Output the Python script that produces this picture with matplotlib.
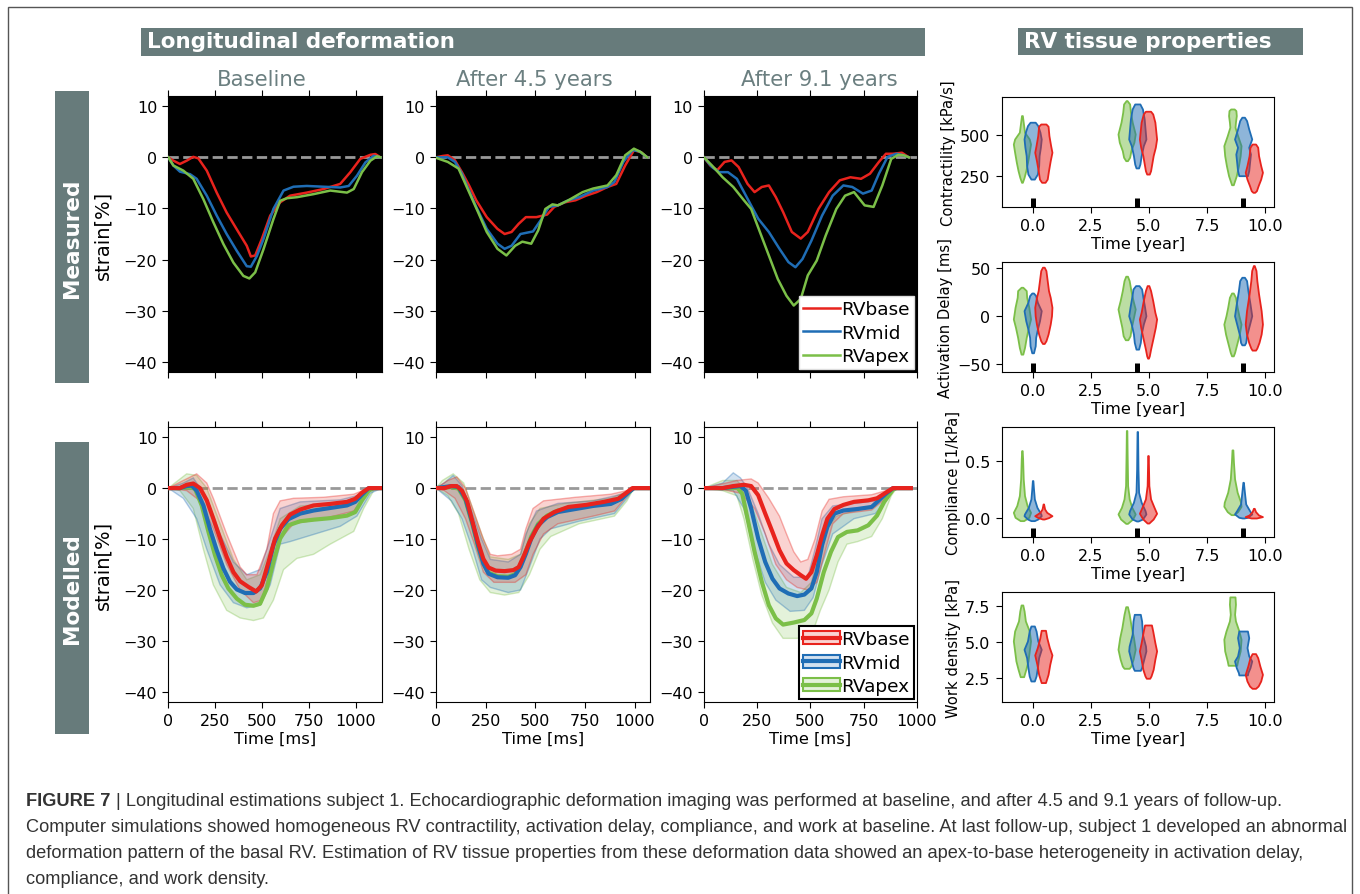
import numpy as np
import matplotlib
matplotlib.use("Agg")
import matplotlib.pyplot as plt
from matplotlib.patches import Rectangle
from matplotlib.colors import to_rgba
from matplotlib.text import Annotation

# ---------------------------------------------------------------- data
REGIONS = ["RVbase", "RVmid", "RVapex"]
PANEL_TITLES = ["Baseline", "After 4.5 years", "After 9.1 years"]
XLIMS = [1137, 1075, 1000]

# measured strain (time [ms], strain [%])
m0_red_t = [0, 27, 62, 98, 133, 160, 205, 258, 311, 365, 418, 440, 463, 498, 543, 596, 649, 738, 827, 916, 970, 1023, 1077, 1103, 1130]
m0_red_v = [0, -0.65, -1.3, -0.65, 0.1, -0.2, -2.6, -6.9, -10.8, -14.1, -17.3, -19.4, -19.2, -16.0, -11.4, -8.8, -7.5, -6.9, -6.2, -5.2, -2.9, -0.3, 0.5, 0.65, 0]
m0_blue_t = [0, 27, 62, 116, 151, 205, 258, 311, 365, 418, 440, 472, 507, 560, 614, 667, 738, 827, 916, 961, 1005, 1050, 1094, 1130]
m0_blue_v = [0, -1.6, -2.8, -3.3, -4.2, -7.5, -11.4, -15.0, -18.3, -21.3, -21.4, -19.3, -16.0, -10.1, -6.5, -5.75, -5.6, -5.75, -5.9, -5.6, -3.6, -1.0, 0.3, 0]
m0_green_t = [0, 27, 80, 133, 187, 240, 294, 347, 400, 432, 463, 507, 560, 596, 632, 685, 774, 863, 952, 988, 1032, 1077, 1112, 1130]
m0_green_v = [0, -1.6, -2.6, -4.2, -8.2, -12.7, -17.0, -20.6, -23.2, -23.7, -22.5, -18.0, -12.1, -8.5, -8.0, -7.8, -7.2, -6.5, -6.9, -6.2, -2.9, -0.65, 0.2, 0]

m1_red_t = [0, 32, 59, 95, 130, 166, 202, 255, 309, 345, 380, 416, 452, 505, 559, 595, 648, 702, 755, 809, 863, 907, 952, 996, 1032, 1063]
m1_red_v = [0, 0.26, 0.4, -0.6, -2.9, -5.5, -8.4, -11.7, -14.0, -15.0, -14.6, -13.0, -11.7, -11.7, -11.2, -9.7, -8.8, -8.4, -7.5, -6.8, -5.8, -5.2, -1.6, 1.4, 1.0, 0]
m1_blue_t = [0, 59, 95, 130, 166, 202, 255, 309, 345, 380, 425, 488, 532, 568, 613, 666, 720, 791, 863, 898, 943, 988, 1023, 1063]
m1_blue_v = [0, 0, -0.9, -3.2, -6.5, -9.7, -14.0, -16.9, -17.9, -17.3, -15.0, -14.5, -12.0, -9.7, -9.4, -8.4, -7.8, -6.5, -5.8, -4.8, -0.9, 1.4, 1.2, 0]
m1_green_t = [0, 59, 113, 166, 211, 255, 309, 354, 398, 434, 479, 514, 550, 586, 613, 666, 738, 791, 863, 907, 952, 996, 1032, 1063]
m1_green_v = [-0.1, -0.9, -2.2, -6.8, -10.7, -14.6, -17.9, -19.2, -17.3, -16.5, -16.9, -14.3, -10.1, -9.2, -9.4, -8.4, -6.8, -6.1, -5.5, -3.5, 0.4, 1.7, 1.0, 0]

m2_red_t = [0, 30, 63, 97, 130, 163, 205, 238, 272, 305, 338, 372, 413, 455, 488, 538, 588, 638, 688, 738, 780, 822, 855, 888, 930, 963]
m2_red_v = [0, -1.6, -2.5, -0.9, -0.6, -1.9, -5.2, -6.8, -5.8, -5.5, -7.8, -10.7, -14.6, -15.9, -14.6, -10.1, -6.8, -4.5, -3.9, -4.2, -3.2, -0.9, 0.7, 0.7, 0.9, 0]
m2_blue_t = [0, 38, 72, 113, 155, 205, 255, 305, 355, 397, 430, 463, 505, 555, 605, 655, 697, 747, 788, 822, 863, 905, 938, 963]
m2_blue_v = [0, -1.9, -2.9, -2.9, -4.2, -8.1, -12.0, -14.6, -17.9, -20.5, -21.5, -19.9, -16.3, -11.4, -7.5, -5.5, -5.8, -7.1, -6.5, -3.2, 0.1, 0.7, 0.4, 0]
m2_green_t = [0, 38, 88, 138, 188, 222, 263, 305, 347, 388, 422, 455, 488, 530, 572, 622, 663, 705, 755, 797, 838, 880, 913, 938, 963]
m2_green_v = [0, -1.6, -3.9, -5.8, -8.4, -10.1, -14.6, -19.2, -23.8, -27.1, -29.0, -27.7, -23.1, -20.2, -15.3, -10.1, -7.5, -6.8, -9.4, -9.7, -5.5, -0.3, 0.5, 0.4, 0]

# modelled strain: mean curves
s0_red_t = [0, 62, 98, 133, 169, 205, 240, 276, 311, 347, 383, 427, 468, 498, 534, 569, 605, 649, 703, 774, 863, 952, 996, 1032, 1068, 1139]
s0_red_v = [0, 0, 0.65, 0.9, 0, -2.4, -6.0, -9.9, -13.5, -16.5, -18.3, -19.4, -20.3, -19.1, -14.5, -9.9, -7.3, -5.2, -4.2, -3.4, -3.1, -2.7, -2.1, -0.9, 0, 0]
s0_blue_t = [0, 62, 98, 125, 151, 187, 222, 258, 294, 329, 365, 409, 454, 489, 525, 560, 596, 640, 703, 774, 863, 952, 996, 1032, 1068, 1139]
s0_blue_v = [0, 0, 0.4, 0.5, -0.5, -3.4, -8.0, -12.2, -15.8, -18.4, -19.9, -20.6, -20.6, -19.7, -16.5, -11.2, -8.0, -6.1, -5.0, -4.4, -3.9, -3.4, -2.7, -1.3, 0, 0]
s0_green_t = [0, 62, 107, 142, 178, 214, 249, 285, 320, 365, 409, 454, 489, 525, 560, 596, 640, 703, 774, 863, 952, 996, 1032, 1068, 1094, 1139]
s0_green_v = [0, 0, 0.2, -0.1, -3.4, -8.6, -13.2, -17.1, -19.7, -21.7, -22.9, -23.1, -22.7, -19.7, -14.5, -9.9, -7.3, -6.5, -6.2, -5.9, -5.4, -4.7, -2.4, -0.5, 0, 0]

s1_red_t = [0, 41, 77, 104, 130, 157, 184, 211, 238, 264, 300, 345, 389, 416, 443, 470, 505, 541, 595, 666, 755, 845, 916, 952, 988, 1068]
s1_red_v = [0, 0, 0.4, 0.4, -0.5, -2.7, -6.7, -10.6, -13.9, -15.6, -16.2, -16.3, -16.1, -15.5, -13.2, -10.6, -8.0, -6.0, -4.7, -3.7, -3.3, -2.7, -2.1, -1.1, 0, 0]
s1_blue_t = [0, 77, 113, 148, 184, 211, 238, 264, 309, 363, 398, 425, 452, 479, 514, 559, 613, 702, 791, 880, 934, 970, 996, 1068]
s1_blue_v = [0, 0.4, 0.2, -2.1, -7.0, -11.2, -14.8, -16.8, -17.5, -17.6, -17.1, -15.5, -12.9, -9.9, -7.3, -5.7, -4.7, -4.1, -3.5, -3.1, -2.1, -0.8, 0, 0]
s1_green_t = [0, 77, 113, 148, 184, 211, 238, 264, 309, 363, 398, 425, 452, 479, 514, 559, 613, 702, 791, 880, 934, 970, 996, 1068]
s1_green_v = [0, 0.2, -0.1, -2.4, -7.3, -11.5, -14.8, -16.6, -17.3, -17.4, -16.9, -15.0, -12.4, -9.5, -7.0, -5.4, -4.4, -3.7, -3.3, -2.9, -2.0, -0.8, 0, 0]

s2_red_t = [0, 88, 138, 188, 222, 255, 288, 322, 355, 388, 422, 455, 480, 505, 530, 555, 580, 613, 655, 705, 772, 813, 847, 888, 972]
s2_red_v = [0, 0, 0.4, 0.65, 0.4, -1.4, -5.0, -8.6, -12.2, -14.8, -16.1, -17.1, -17.8, -16.5, -13.2, -9.3, -6.0, -4.1, -3.3, -2.7, -2.4, -2.0, -1.1, 0, 0]
s2_blue_t = [0, 88, 138, 172, 197, 222, 255, 288, 322, 355, 397, 438, 472, 505, 530, 555, 580, 613, 655, 722, 788, 822, 855, 888, 972]
s2_blue_v = [0, 0, 0.26, 0.4, -0.5, -4.0, -9.9, -14.5, -17.8, -19.7, -20.7, -21.2, -20.9, -19.7, -16.5, -11.2, -7.6, -5.0, -4.4, -4.1, -3.7, -2.4, -1.1, 0, 0]
s2_green_t = [0, 138, 155, 180, 205, 238, 272, 305, 338, 372, 422, 472, 505, 530, 563, 597, 630, 672, 722, 772, 813, 847, 888, 905, 972]
s2_green_v = [0, 0, 0.2, -1.1, -6.0, -12.5, -18.4, -23.0, -25.6, -26.8, -26.4, -25.9, -24.6, -21.7, -16.5, -12.5, -9.6, -8.6, -8.3, -7.3, -5.4, -2.7, -0.3, 0, 0]

# modelled strain: band upper / lower edges
b0_red_up_t = [0, 80, 151, 205, 240, 311, 383, 418, 472, 525, 560, 596, 667, 827, 988, 1068, 1139]
b0_red_up_v = [0, 1.5, 2.8, 1.0, -2.0, -9.0, -15.5, -17.0, -17.0, -12.0, -5.0, -2.5, -2.0, -1.8, -1.2, 0, 0]
b0_red_lo_t = [0, 98, 169, 240, 311, 383, 454, 498, 543, 596, 667, 827, 988, 1068, 1139]
b0_red_lo_v = [0, -0.5, -2.5, -8.0, -15.0, -20.0, -22.5, -22.0, -16.0, -10.0, -7.0, -6.0, -4.5, -0.5, 0]
b0_blue_up_t = [0, 80, 133, 205, 276, 347, 418, 489, 543, 596, 703, 916, 1023, 1077, 1139]
b0_blue_up_v = [0, 1.0, 2.0, -2.0, -9.0, -14.5, -17.0, -16.0, -10.0, -4.0, -2.7, -2.3, -1.3, 0, 0]
b0_blue_lo_t = [0, 80, 151, 205, 276, 347, 418, 489, 543, 596, 649, 738, 827, 916, 1005, 1077, 1139]
b0_blue_lo_v = [0, -2.0, -6.0, -12.0, -19.0, -22.5, -23.5, -23.0, -19.0, -11.0, -10.5, -9.5, -8.5, -7.5, -5.5, -1.0, 0]
b0_green_up_t = [0, 98, 151, 205, 276, 347, 418, 489, 543, 596, 703, 916, 1023, 1077, 1139]
b0_green_up_v = [0, 2.8, 2.5, 0, -7.0, -14.0, -18.0, -17.0, -12.0, -6.0, -3.5, -3.0, -1.5, 0, 0]
b0_green_lo_t = [0, 62, 133, 187, 240, 311, 383, 454, 507, 560, 614, 685, 774, 863, 988, 1041, 1094, 1139]
b0_green_lo_v = [0, -0.5, -4.0, -12.0, -19.0, -24.0, -25.5, -26.0, -25.5, -22.0, -16.0, -13.8, -13.0, -11.0, -8.5, -4.0, -0.5, 0]

b1_red_up_t = [0, 59, 104, 148, 184, 238, 273, 309, 380, 425, 452, 488, 541, 702, 880, 970, 996, 1068]
b1_red_up_v = [0, 1.5, 2.2, 0, -4.0, -10.0, -13.0, -13.3, -13.0, -12.0, -8.0, -4.0, -2.5, -1.8, -1.2, -0.4, 0, 0]
b1_red_lo_t = [0, 41, 95, 148, 193, 238, 291, 398, 452, 488, 541, 613, 791, 898, 952, 996, 1068]
b1_red_lo_v = [0, -0.5, -2.0, -6.0, -11.0, -16.5, -18.5, -18.5, -17.0, -13.0, -9.0, -7.0, -5.5, -4.5, -2.0, 0, 0]
b1_blue_up_t = [0, 41, 86, 130, 175, 229, 273, 363, 425, 452, 505, 613, 791, 934, 991, 1068]
b1_blue_up_v = [0, 1.0, 2.5, 0.5, -4.0, -10.0, -14.0, -14.5, -13.0, -9.0, -4.5, -3.0, -2.5, -1.2, 0, 0]
b1_blue_lo_t = [0, 77, 130, 184, 229, 273, 363, 425, 470, 523, 577, 720, 898, 961, 996, 1068]
b1_blue_lo_v = [0, -2.5, -6.0, -12.0, -18.0, -19.5, -20.5, -20.0, -15.5, -10.0, -8.0, -6.5, -5.0, -2.0, 0, 0]
b1_green_up_t = [0, 32, 86, 139, 175, 229, 273, 363, 425, 470, 523, 648, 880, 970, 996, 1068]
b1_green_up_v = [0, 1.5, 2.8, 1.0, -3.0, -9.0, -13.5, -14.0, -13.0, -7.0, -4.0, -3.0, -2.0, -0.5, 0, 0]
b1_green_lo_t = [0, 59, 113, 166, 220, 273, 345, 416, 470, 523, 577, 720, 898, 961, 996, 1068]
b1_green_lo_v = [0, -1.5, -5.0, -12.0, -18.0, -20.5, -21.0, -20.5, -17.0, -12.0, -9.5, -7.0, -5.5, -2.5, 0, 0]

b2_red_up_t = [0, 155, 222, 255, 305, 355, 388, 422, 455, 488, 522, 555, 588, 655, 788, 855, 888, 972]
b2_red_up_v = [0, 1.5, 1.8, 1.0, -2.0, -5.5, -9.0, -12.5, -14.5, -14.0, -10.0, -4.5, -2.2, -1.7, -1.3, -0.5, 0, 0]
b2_red_lo_t = [0, 88, 172, 238, 288, 338, 388, 438, 488, 530, 572, 605, 655, 788, 855, 888, 972]
b2_red_lo_v = [0, -0.3, -1.0, -4.0, -9.0, -15.0, -18.0, -19.5, -20.0, -18.5, -12.0, -7.0, -5.0, -4.3, -2.0, 0, 0]
b2_blue_up_t = [0, 88, 138, 172, 205, 255, 305, 355, 422, 488, 522, 555, 605, 705, 805, 855, 888, 972]
b2_blue_up_v = [0, 1.0, 3.0, 2.0, 0, -5.0, -11.0, -15.0, -17.5, -17.5, -12.0, -6.0, -3.5, -3.0, -2.5, -1.0, 0, 0]
b2_blue_lo_t = [0, 138, 188, 238, 288, 338, 405, 472, 513, 555, 605, 705, 805, 855, 888, 972]
b2_blue_lo_v = [0, -0.5, -4.0, -12.0, -18.5, -22.0, -24.2, -24.0, -21.5, -15.0, -9.0, -6.0, -5.0, -2.5, 0, 0]
b2_green_up_t = [0, 88, 155, 188, 222, 272, 322, 388, 455, 505, 538, 580, 622, 705, 805, 855, 897, 972]
b2_green_up_v = [0, 1.5, 1.5, 0, -3.0, -9.0, -15.0, -19.5, -20.5, -18.5, -13.0, -8.0, -5.5, -4.5, -3.5, -1.0, 0, 0]
b2_green_lo_t = [0, 88, 155, 188, 230, 272, 322, 372, 438, 505, 547, 588, 630, 672, 722, 788, 838, 880, 905, 972]
b2_green_lo_v = [0, -0.5, -1.5, -6.0, -14.0, -21.0, -26.5, -29.5, -29.5, -29.0, -24.0, -20.0, -14.5, -11.0, -10.5, -9.5, -6.0, -1.5, 0, 0]

# RV tissue properties: violin outlines (value, relative half width) per follow-up
TIMES = [0.0, 4.5, 9.05]
TIME_TICKS = [0.0, 2.5, 5.0, 7.5, 10.0]
PROP_LABELS = ["Contractility [kPa/s]", "Activation Delay [ms]", "Compliance [1/kPa]", "Work density [kPa]"]
PROP_YTICKS = [[250, 500], [-50, 0, 50], [0.0, 0.5], [2.5, 5.0, 7.5]]
PROP_YLIMS = [(58, 739), (-58, 56), (-0.163, 0.79), (0.81, 8.45)]

contr_apex_y = [[622, 581, 519, 477, 446, 395, 333, 281, 240, 209],
                [715, 694, 643, 581, 508, 457, 405, 364, 343],
                [663, 653, 622, 581, 550, 498, 436, 374, 312, 250, 194]]
contr_apex_w = [[0.05, 0.15, 0.3, 0.85, 1.0, 0.85, 0.65, 0.45, 0.25, 0.05],
                [0.05, 0.35, 0.45, 0.65, 1.0, 0.85, 0.5, 0.35, 0.1],
                [0.2, 0.4, 0.45, 0.35, 0.3, 0.6, 1.0, 0.9, 0.7, 0.45, 0.1]]
contr_mid_y = [[581, 560, 519, 477, 426, 374, 312, 260, 229],
               [694, 663, 601, 539, 477, 436, 374, 322, 298],
               [612, 591, 539, 477, 426, 384, 333, 281, 250]]
contr_mid_w = [[0.3, 0.6, 0.85, 1.0, 0.9, 0.75, 0.7, 0.55, 0.2],
               [0.3, 0.6, 0.8, 0.9, 1.0, 0.7, 0.45, 0.3, 0.15],
               [0.15, 0.4, 0.65, 1.0, 0.65, 0.85, 0.75, 0.65, 0.5]]
contr_base_y = [[570, 556, 498, 436, 395, 343, 281, 229, 209],
                [649, 632, 581, 477, 426, 374, 312, 281, 260],
                [446, 426, 374, 312, 271, 229, 188, 157, 147]]
contr_base_w = [[0.3, 0.55, 0.65, 0.85, 1.0, 0.8, 0.6, 0.45, 0.2],
                [0.3, 0.55, 0.8, 1.0, 0.85, 0.6, 0.4, 0.3, 0.15],
                [0.2, 0.45, 0.55, 0.8, 1.0, 0.8, 0.5, 0.3, 0.1]]

delay_apex_y = [[30.0, 26.5, 19.5, 9.1, -3.1, -11.8, -22.3, -32.8, -39.7],
                [41.5, 36.9, 26.5, 16.0, 7.3, -1.4, -11.8, -20.6, -24.7],
                [24.0, 19.5, 9.1, 0.3, -8.4, -18.8, -29.3, -38.0, -41.5]]
delay_apex_w = [[0.1, 0.5, 0.55, 0.8, 1.0, 0.75, 0.5, 0.3, 0.1],
                [0.1, 0.3, 0.5, 0.75, 1.0, 0.8, 0.55, 0.4, 0.15],
                [0.1, 0.35, 0.55, 0.75, 1.0, 0.8, 0.5, 0.25, 0.1]]
delay_mid_y = [[24.0, 21.3, 14.3, 5.6, -4.9, -13.6, -22.3, -31.0, -38.3],
               [31.7, 28.2, 19.5, 9.1, 0.3, -8.4, -18.8, -27.5, -34.5],
               [40.4, 36.9, 26.5, 12.5, 0.3, -10.1, -20.6, -27.5, -30.0]]
delay_mid_w = [[0.1, 0.35, 0.55, 1.0, 0.8, 0.55, 0.35, 0.3, 0.1],
               [0.2, 0.5, 0.65, 0.85, 1.0, 0.7, 0.45, 0.35, 0.15],
               [0.15, 0.4, 0.55, 0.8, 1.0, 0.7, 0.4, 0.3, 0.15]]
delay_base_y = [[50.9, 47.4, 36.9, 26.5, 19.5, 9.1, 0.3, -8.4, -18.8, -25.8, -28.6],
                [31.7, 26.5, 16.0, 3.8, -3.1, -11.8, -22.3, -34.5, -41.5, -43.9],
                [52.6, 47.4, 36.9, 23.0, 5.6, -8.4, -18.8, -27.5, -33.4, -35.5]]
delay_base_w = [[0.1, 0.3, 0.45, 0.6, 0.8, 1.0, 0.95, 0.8, 0.55, 0.3, 0.1],
                [0.1, 0.3, 0.55, 0.8, 1.0, 0.85, 0.6, 0.3, 0.15, 0.05],
                [0.05, 0.25, 0.35, 0.55, 0.85, 1.0, 0.85, 0.6, 0.35, 0.2]]

compl_apex_y = [[0.587, 0.515, 0.340, 0.195, 0.108, 0.049, 0.006, -0.023],
                [0.762, 0.573, 0.282, 0.166, 0.093, 0.035, -0.009, -0.047],
                [0.593, 0.485, 0.340, 0.224, 0.137, 0.102, 0.055, 0.029]]
compl_apex_w = [[0.03, 0.08, 0.15, 0.3, 0.6, 1.0, 0.8, 0.2],
                [0.03, 0.06, 0.12, 0.3, 0.6, 1.0, 0.7, 0.1],
                [0.05, 0.12, 0.25, 0.55, 0.95, 1.0, 0.6, 0.15]]
compl_mid_y = [[0.326, 0.253, 0.166, 0.093, 0.035, 0.020, -0.009, -0.023],
               [0.753, 0.427, 0.224, 0.137, 0.064, 0.035, -0.009, -0.026],
               [0.311, 0.224, 0.122, 0.064, 0.035, 0.006, 0.0]]
compl_mid_w = [[0.03, 0.1, 0.2, 0.5, 0.95, 1.0, 0.6, 0.2],
               [0.03, 0.08, 0.15, 0.45, 0.9, 1.0, 0.6, 0.1],
               [0.03, 0.15, 0.3, 0.75, 1.0, 0.5, 0.1]]
compl_base_y = [[0.122, 0.078, 0.049, 0.020, 0.003, -0.009],
                [0.544, 0.282, 0.166, 0.093, 0.041, -0.009, -0.044],
                [0.084, 0.055, 0.026, 0.012, 0.0]]
compl_base_w = [[0.03, 0.15, 0.4, 1.0, 0.6, 0.1],
                [0.03, 0.1, 0.3, 0.7, 1.0, 0.6, 0.1],
                [0.05, 0.2, 0.55, 1.0, 0.3]]

work_apex_y = [[7.57, 7.15, 6.46, 5.76, 5.07, 4.38, 3.68, 3.10, 2.59],
               [7.45, 6.92, 6.00, 5.30, 4.49, 3.80, 3.33, 3.17],
               [8.13, 7.62, 6.92, 6.46, 5.76, 5.19, 4.38, 3.68, 3.38]]
work_apex_w = [[0.1, 0.25, 0.4, 0.85, 1.0, 0.85, 0.7, 0.45, 0.2],
               [0.1, 0.3, 0.55, 0.8, 1.0, 0.75, 0.5, 0.3],
               [0.3, 0.35, 0.25, 0.35, 0.75, 1.0, 0.9, 0.6, 0.5]]
work_mid_y = [[6.11, 5.76, 5.07, 4.49, 3.91, 3.22, 2.64, 2.29],
              [6.92, 6.46, 5.53, 4.72, 4.38, 3.80, 3.22, 3.03],
              [5.76, 5.30, 4.61, 4.03, 3.68, 3.22, 2.87, 2.71]]
work_mid_w = [[0.2, 0.4, 0.6, 1.0, 0.7, 0.55, 0.4, 0.2],
              [0.35, 0.5, 0.6, 0.95, 1.0, 0.75, 0.5, 0.35],
              [0.5, 0.65, 0.45, 0.65, 1.0, 0.8, 0.55, 0.5]]
work_base_y = [[5.81, 5.30, 4.61, 4.10, 3.45, 2.75, 2.18],
               [6.18, 5.76, 4.95, 4.38, 3.80, 3.10, 2.64, 2.48],
               [4.19, 3.91, 3.33, 2.75, 2.29, 1.94, 1.78]]
work_base_w = [[0.25, 0.4, 0.7, 1.0, 0.75, 0.55, 0.25],
               [0.4, 0.55, 0.8, 1.0, 0.8, 0.6, 0.35, 0.2],
               [0.2, 0.45, 0.7, 1.0, 0.8, 0.5, 0.2]]

CAPTION_BOLD = "FIGURE 7 "
CAPTION_LINES = [
    "| Longitudinal estimations subject 1. Echocardiographic deformation imaging was performed at baseline, and after 4.5 and 9.1 years of follow-up.",
    "Computer simulations showed homogeneous RV contractility, activation delay, compliance, and work at baseline. At last follow-up, subject 1 developed an abnormal",
    "deformation pattern of the basal RV. Estimation of RV tissue properties from these deformation data showed an apex-to-base heterogeneity in activation delay,",
    "compliance, and work density.",
]

# ---------------------------------------------------------------- style
RED, BLUE, GREEN = "#e8231d", "#1f6db5", "#7bbf48"
COLORS = [RED, BLUE, GREEN]
BOX = "#677b7b"
TITLE_C = "#6b7f80"
TICK_FS = 11.5
CAP_FS = 13.15

W, H = 1360, 895
fig = plt.figure(figsize=(W / 100, H / 100), dpi=100)


def frac(x0, y0, x1, y1):
    return [x0 / W, 1 - y1 / H, (x1 - x0) / W, (y1 - y0) / H]


def fig_rect(x0, y0, x1, y1, **kw):
    fig.patches.append(Rectangle((x0 / W, 1 - y1 / H), (x1 - x0) / W, (y1 - y0) / H,
                                 transform=fig.transFigure, figure=fig, **kw))


# outer frame
fig_rect(8, 8, 1352, 900, facecolor="none", edgecolor="#555555", lw=1.0)

# header boxes
fig_rect(140.5, 28.5, 925, 56.7, facecolor=BOX, edgecolor="none")
fig.text(147 / W, 1 - 42.5 / H, "Longitudinal deformation", color="white",
         fontsize=15.5, fontweight="bold", va="center", ha="left")
fig_rect(1017.7, 29.3, 1303.3, 55.7, facecolor=BOX, edgecolor="none")
fig.text(1024 / W, 1 - 42.5 / H, "RV tissue properties", color="white",
         fontsize=15.5, fontweight="bold", va="center", ha="left")
fig_rect(55, 91.7, 89.3, 384, facecolor=BOX, edgecolor="none")
fig.text(72 / W, 1 - 238 / H, "Measured", color="white", fontsize=15.5,
         fontweight="bold", rotation=90, va="center", ha="center")
fig_rect(55, 442.7, 89.3, 735, facecolor=BOX, edgecolor="none")
fig.text(72 / W, 1 - 589 / H, "Modelled", color="white", fontsize=15.5,
         fontweight="bold", rotation=90, va="center", ha="center")

title_x = [261.7, 534.5, 819.5]
for tx, tt in zip(title_x, PANEL_TITLES):
    fig.text(tx / W, 1 - 80 / H, tt, color=TITLE_C, fontsize=15.3, ha="center", va="center")

# strain panels
cols = [(168.3, 381.7), (436.1, 649.6), (703.9, 916.8)]
meas = [
    [(m0_red_t, m0_red_v), (m0_blue_t, m0_blue_v), (m0_green_t, m0_green_v)],
    [(m1_red_t, m1_red_v), (m1_blue_t, m1_blue_v), (m1_green_t, m1_green_v)],
    [(m2_red_t, m2_red_v), (m2_blue_t, m2_blue_v), (m2_green_t, m2_green_v)],
]
model = [
    [(s0_red_t, s0_red_v), (s0_blue_t, s0_blue_v), (s0_green_t, s0_green_v)],
    [(s1_red_t, s1_red_v), (s1_blue_t, s1_blue_v), (s1_green_t, s1_green_v)],
    [(s2_red_t, s2_red_v), (s2_blue_t, s2_blue_v), (s2_green_t, s2_green_v)],
]
bands = [
    [(b0_red_up_t, b0_red_up_v, b0_red_lo_t, b0_red_lo_v),
     (b0_blue_up_t, b0_blue_up_v, b0_blue_lo_t, b0_blue_lo_v),
     (b0_green_up_t, b0_green_up_v, b0_green_lo_t, b0_green_lo_v)],
    [(b1_red_up_t, b1_red_up_v, b1_red_lo_t, b1_red_lo_v),
     (b1_blue_up_t, b1_blue_up_v, b1_blue_lo_t, b1_blue_lo_v),
     (b1_green_up_t, b1_green_up_v, b1_green_lo_t, b1_green_lo_v)],
    [(b2_red_up_t, b2_red_up_v, b2_red_lo_t, b2_red_lo_v),
     (b2_blue_up_t, b2_blue_up_v, b2_blue_lo_t, b2_blue_lo_v),
     (b2_green_up_t, b2_green_up_v, b2_green_lo_t, b2_green_lo_v)],
]


def style_strain(ax, xmax, bottom_labels):
    ax.set_xlim(0, xmax)
    ax.set_ylim(-42, 12)
    ax.set_xticks([0, 250, 500, 750, 1000])
    ax.set_yticks([-40, -30, -20, -10, 0, 10])
    ax.tick_params(top=True, direction="out", labelsize=TICK_FS, length=4.5,
                   labelbottom=bottom_labels)
    ax.axhline(0, color="#999999", lw=2.0, ls="--", zorder=1.5)


LEG_KW = dict(loc="lower right", fontsize=13.3, handlelength=2.0, handletextpad=0.1,
              labelspacing=0.3, borderpad=0.22, borderaxespad=0.15, fancybox=False,
              framealpha=1)

for i, (x0, x1) in enumerate(cols):
    # measured
    ax = fig.add_axes(frac(x0, 97, x1, 373))
    ax.set_facecolor("black")
    style_strain(ax, XLIMS[i], False)
    lines = []
    for (t, v), c, lab in zip(meas[i], COLORS, REGIONS):
        ln, = ax.plot(t, v, color=c, lw=1.8, label=lab, zorder=3)
        lines.append(ln)
    if i == 0:
        ax.set_ylabel("strain[%]", fontsize=14, labelpad=8)
    if i == 2:
        ax.legend(handles=lines, edgecolor="#dddddd", **LEG_KW)
    # modelled
    ax = fig.add_axes(frac(x0, 428, x1, 703))
    style_strain(ax, XLIMS[i], True)
    for k in [2, 1, 0]:
        tu, vu, tl, vl = bands[i][k]
        c = COLORS[k]
        ax.fill(np.r_[tu, tl[::-1]], np.r_[vu, vl[::-1]],
                facecolor=to_rgba(c, 0.2), edgecolor=to_rgba(c, 0.35), lw=1.0, zorder=2)
    hl = {}
    for k in [2, 1, 0]:
        t, v = model[i][k]
        ln, = ax.plot(t, v, color=COLORS[k], lw=3.0, zorder=3)
        hl[k] = ln
    ax.set_xlabel("Time [ms]", fontsize=11.7, labelpad=2)
    if i == 0:
        ax.set_ylabel("strain[%]", fontsize=14, labelpad=8)
    if i == 2:
        leg_h = []
        for k in range(3):
            p = Rectangle((0, 0), 1, 1, facecolor=to_rgba(COLORS[k], 0.2),
                          edgecolor=COLORS[k], lw=1.5)
            leg_h.append((p, hl[k]))
        leg = ax.legend(leg_h, REGIONS, edgecolor="black", **LEG_KW)
        leg.get_frame().set_linewidth(1.5)

# violin panels
props = [
    [(contr_base_y, contr_base_w), (contr_mid_y, contr_mid_w), (contr_apex_y, contr_apex_w)],
    [(delay_base_y, delay_base_w), (delay_mid_y, delay_mid_w), (delay_apex_y, delay_apex_w)],
    [(compl_base_y, compl_base_w), (compl_mid_y, compl_mid_w), (compl_apex_y, compl_apex_w)],
    [(work_base_y, work_base_w), (work_mid_y, work_mid_w), (work_apex_y, work_apex_w)],
]
OFFSETS = [0.46, 0.0, -0.46]
rows = [(97.7, 207.7), (263.3, 372.7), (428.3, 537.7), (593.3, 703.3)]
for p, (y0, y1) in enumerate(rows):
    ax = fig.add_axes(frac(1001.7, y0, 1274.3, y1))
    for k in [2, 1, 0]:
        ys_all, ws_all = props[p][k]
        for g, t in enumerate(TIMES):
            ys = np.array(ys_all[g], dtype=float)
            ws = np.array(ws_all[g], dtype=float)
            st = {"coords": ys, "vals": ws, "mean": ys.mean(), "median": np.median(ys),
                  "min": ys.min(), "max": ys.max()}
            parts = ax.violin([st], positions=[t + OFFSETS[k]], widths=0.74,
                              showmeans=False, showextrema=False, showmedians=False)
            for b in parts["bodies"]:
                b.set_alpha(None)
                b.set_facecolor(to_rgba(COLORS[k], 0.5))
                b.set_edgecolor(COLORS[k])
                b.set_linewidth(1.3)
    if p < 3:
        ax.vlines(TIMES, 0, 0.075, transform=ax.get_xaxis_transform(), colors="k", lw=3.6)
    ax.set_xlim(-1.33, 10.39)
    ax.set_ylim(*PROP_YLIMS[p])
    ax.set_xticks(TIME_TICKS)
    ax.set_xticklabels(["0.0", "2.5", "5.0", "7.5", "10.0"])
    ax.set_yticks(PROP_YTICKS[p])
    ax.tick_params(direction="out", labelsize=TICK_FS, length=4.5)
    ax.set_xlabel("Time [year]", fontsize=11.7, labelpad=2)
    ax.set_ylabel(PROP_LABELS[p], fontsize=10.6, labelpad=3)

# caption
cap_fam = ["Liberation Sans", "DejaVu Sans"]
ty = [806, 832, 858, 884]
tb = fig.text(26 / W, 1 - ty[0] / H, CAPTION_BOLD, fontsize=CAP_FS, fontweight="bold",
              family=cap_fam, color="#333333", va="baseline")
a = Annotation(CAPTION_LINES[0], xy=(1, 0), xycoords=tb, fontsize=CAP_FS, family=cap_fam,
               color="#333333", va="bottom", ha="left")
fig.add_artist(a)
for k in range(1, 4):
    fig.text(26 / W, 1 - ty[k] / H, CAPTION_LINES[k], fontsize=CAP_FS, family=cap_fam,
             color="#333333", va="baseline")

fig.savefig("out.png", dpi=100)
